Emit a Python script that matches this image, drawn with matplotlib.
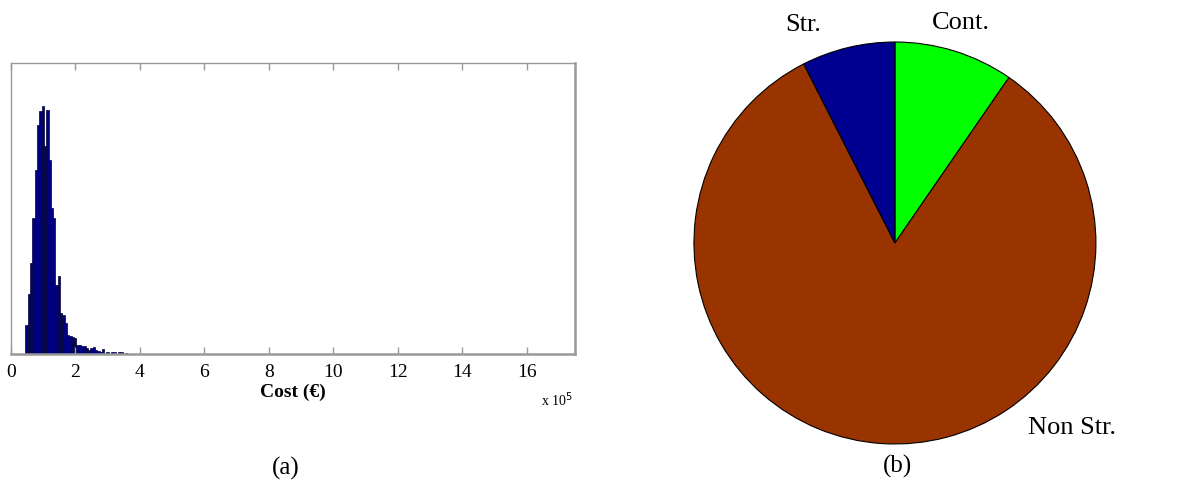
import numpy as np
import matplotlib.pyplot as plt

# histogram of total cost (x 1e5 EUR), bins from 0.445 to 3.61
bin_lo = 0.445
bin_hi = 3.61
counts = [121, 246, 376, 561, 758, 944, 1001, 1022, 857, 1005,
          800, 602, 561, 285, 322, 170, 162, 129, 79, 75,
          71, 67, 38, 38, 34, 31, 26, 18, 25, 29,
          18, 14, 9, 21, 0, 9, 0, 7, 9, 0,
          7, 8, 0, 6]
xticks = [0, 2, 4, 6, 8, 10, 12, 14, 16]

# cost share by category
pie_labels = ["Cont.", "Non Str.", "Str."]
pie_values = [9.6, 82.9, 7.5]
pie_colors = ["#00ff00", "#993300", "#000090"]

serif = ["Liberation Serif", "DejaVu Serif"]

fig = plt.figure(figsize=(11.84, 4.86), dpi=100)

# (a) histogram
ax1 = fig.add_axes([0.00929, 0.2716, 0.4764, 0.5988])
edges = np.linspace(bin_lo, bin_hi, len(counts) + 1)
ax1.bar(edges[:-1], counts, width=np.diff(edges), align="edge",
        color="#000080", edgecolor="#00003a", linewidth=0.5)
ax1.set_xlim(0, 17.5)
ax1.set_ylim(0, 1200)
ax1.set_xticks(xticks)
ax1.set_xticklabels([str(t) for t in xticks], family=serif, fontsize=14)
ax1.set_yticks([])
ax1.tick_params(axis="x", direction="in", length=5, width=1, color="#999999",
                top=True, pad=7)
for s in ax1.spines.values():
    s.set_color("#999999")
    s.set_linewidth(1.0)
ax1.spines["right"].set_linewidth(1.8)
ax1.spines["bottom"].set_linewidth(1.8)
ax1.set_xlabel("Cost (€)", family=serif, fontsize=14, fontweight="bold",
               labelpad=2)
fig.text(557 / 1184, 1 - 400 / 486, "x 10$^5$", family=serif, fontsize=10,
         ha="center", va="center")

# (b) pie
ax2 = fig.add_axes([0.5861, 0.0864, 0.3395, 0.8272])
ax2.pie(pie_values, colors=pie_colors, startangle=90, counterclock=False,
        radius=1.0, wedgeprops=dict(edgecolor="black", linewidth=0.8))
ax2.set_xlim(-1, 1)
ax2.set_ylim(-1, 1)
ax2.set_aspect("equal")
ax2.axis("off")
label_pos = {"Cont.": (0.328, 1.094), "Non Str.": (0.881, -0.92),
             "Str.": (-0.458, 1.085)}
for lab in pie_labels:
    x, y = label_pos[lab]
    ax2.text(x, y, lab, family=serif, fontsize=19, ha="center", va="center",
             clip_on=False)

fig.text(286 / 1184, 1 - 468 / 486, "(a)", family=serif, fontsize=18,
         ha="center", va="center")
fig.text(897 / 1184, 1 - 466 / 486, "(b)", family=serif, fontsize=18,
         ha="center", va="center")

fig.savefig("out.png", dpi=100)
